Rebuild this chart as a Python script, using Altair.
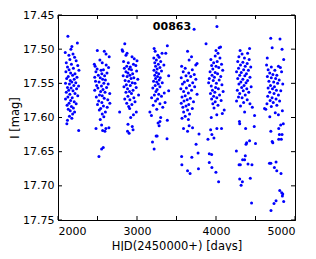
import altair as alt
import pandas as pd

# ---- data (HJD-2450000, I mag) ----
s1_day = [2125, 2245, 2176, 2163, 2092, 2138, 2190, 2210, 2150, 2230, 2105, 2170, 2250, 2120, 2195,
          2140, 2265, 2100, 2160, 2215, 2185, 2130, 2240, 2110, 2205, 2155, 2175, 2225, 2095, 2145,
          2200, 2260, 2120, 2165, 2235, 2135, 2190, 2105, 2215, 2150, 2250, 2125, 2180, 2095, 2160,
          2205, 2140, 2230, 2115, 2170, 2195, 2130, 2155, 2210, 2185, 2145, 2175, 2120, 2112, 2262]
s1_mag = [17.481, 17.491, 17.496, 17.500, 17.505, 17.509, 17.507, 17.512, 17.515, 17.517, 17.520, 17.522,
          17.524, 17.526, 17.528, 17.530, 17.531, 17.533, 17.535, 17.536, 17.538, 17.540, 17.541, 17.543,
          17.544, 17.546, 17.548, 17.549, 17.550, 17.551, 17.553, 17.554, 17.556, 17.557, 17.558, 17.560,
          17.561, 17.563, 17.565, 17.566, 17.568, 17.570, 17.571, 17.573, 17.575, 17.577, 17.579, 17.580,
          17.582, 17.584, 17.586, 17.588, 17.590, 17.592, 17.595, 17.598, 17.601, 17.604, 17.609, 17.619]

s2_day = [2498, 2586, 2648, 2608, 2460, 2470, 2530, 2560, 2610, 2640, 2495, 2545, 2575, 2480, 2620,
          2555, 2510, 2590, 2465, 2535, 2565, 2600, 2475, 2520, 2580, 2635, 2490, 2550, 2615, 2505,
          2570, 2465, 2540, 2595, 2655, 2525, 2560, 2485, 2585, 2630, 2515, 2555, 2656, 2500, 2575,
          2623, 2540, 2523, 2600, 2560, 2580, 2535, 2481, 2552, 2565, 2606, 2644, 2594, 2552, 2573, 2518]
s2_mag = [17.502, 17.503, 17.511, 17.507, 17.522, 17.525, 17.516, 17.520, 17.523, 17.527, 17.529, 17.531,
          17.530, 17.533, 17.535, 17.536, 17.538, 17.539, 17.541, 17.542, 17.544, 17.545, 17.547, 17.548,
          17.550, 17.551, 17.553, 17.554, 17.556, 17.557, 17.559, 17.560, 17.562, 17.563, 17.565, 17.567,
          17.568, 17.570, 17.572, 17.574, 17.576, 17.578, 17.579, 17.581, 17.583, 17.585, 17.587, 17.589,
          17.592, 17.595, 17.599, 17.603, 17.616, 17.611, 17.619, 17.616, 17.615, 17.620, 17.646, 17.644, 17.657]

s3_day = [2845, 2812, 2820, 2874, 2860, 2937, 2965, 3000, 2830, 2890, 2955, 2985, 2870, 2915, 2840,
          2900, 2930, 2995, 2860, 2885, 2945, 2910, 2825, 2875, 2960, 2925, 3010, 2850, 2895, 2940,
          2975, 2865, 2915, 2835, 2990, 2880, 2950, 2905, 2860, 2930, 3020, 2885, 2960, 2845, 2910,
          2975, 2870, 2935, 2895, 2907, 2991, 2780, 2955, 2920, 2886, 2940, 2880, 2950, 2900]
s3_mag = [17.492, 17.501, 17.503, 17.506, 17.509, 17.511, 17.514, 17.517, 17.518, 17.520, 17.522, 17.524,
          17.525, 17.526, 17.528, 17.529, 17.530, 17.532, 17.533, 17.535, 17.536, 17.538, 17.539, 17.540,
          17.542, 17.543, 17.544, 17.546, 17.547, 17.549, 17.550, 17.552, 17.553, 17.555, 17.556, 17.558,
          17.560, 17.562, 17.563, 17.565, 17.567, 17.569, 17.571, 17.573, 17.574, 17.577, 17.579, 17.581,
          17.584, 17.587, 17.592, 17.592, 17.596, 17.600, 17.610, 17.613, 17.620, 17.618, 17.623]

s4_day = [3384, 3217, 3230, 3317, 3364, 3263, 3213, 3280, 3245, 3300, 3225, 3270, 3340, 3235, 3290,
          3255, 3215, 3310, 3245, 3275, 3225, 3401, 3260, 3295, 3235, 3280, 3210, 3250, 3320, 3270,
          3230, 3290, 3200, 3255, 3401, 3240, 3345, 3275, 3220, 3310, 3185, 3260, 3355, 3235, 3290,
          3205, 3326, 3250, 3163, 3183, 3300, 3267, 3280, 3290, 3384, 3242, 3255, 3380, 3196, 3217]
s4_mag = [17.495, 17.499, 17.503, 17.506, 17.506, 17.509, 17.513, 17.512, 17.516, 17.518, 17.520, 17.522,
          17.523, 17.525, 17.527, 17.529, 17.531, 17.532, 17.534, 17.536, 17.538, 17.539, 17.540, 17.542,
          17.543, 17.545, 17.547, 17.548, 17.549, 17.551, 17.553, 17.555, 17.557, 17.559, 17.561, 17.562,
          17.564, 17.566, 17.567, 17.569, 17.571, 17.573, 17.578, 17.576, 17.580, 17.582, 17.585, 17.588,
          17.592, 17.597, 17.600, 17.608, 17.612, 17.606, 17.604, 17.627, 17.627, 17.631, 17.636, 17.646]

s5_day = [3723, 3640, 3690, 3660, 3565, 3744, 3760, 3610, 3700, 3585, 3655, 3725, 3620, 3680, 3560,
          3745, 3640, 3600, 3705, 3575, 3665, 3730, 3625, 3555, 3690, 3590, 3650, 3760, 3610, 3570,
          3675, 3635, 3595, 3715, 3560, 3655, 3620, 3580, 3700, 3640, 3590, 3665, 3610, 3570, 3650,
          3589, 3640, 3703, 3785, 3660, 3748, 3773, 3565, 3694, 3568, 3640, 3672, 3778]
s5_mag = [17.471, 17.503, 17.511, 17.516, 17.525, 17.523, 17.521, 17.528, 17.530, 17.533, 17.535, 17.537,
          17.539, 17.540, 17.542, 17.544, 17.546, 17.548, 17.549, 17.551, 17.553, 17.555, 17.557, 17.558,
          17.560, 17.562, 17.564, 17.566, 17.568, 17.570, 17.572, 17.574, 17.576, 17.577, 17.579, 17.581,
          17.583, 17.585, 17.587, 17.589, 17.592, 17.595, 17.598, 17.601, 17.603, 17.616, 17.620, 17.615,
          17.624, 17.612, 17.639, 17.652, 17.657, 17.658, 17.669, 17.678, 17.682, 17.675]

s6_day = [4012, 3874, 4058, 4040, 4000, 4025, 3990, 4050, 3935, 4015, 3970, 4070, 3945, 4000, 4035,
          3960, 4085, 3925, 3990, 4020, 3950, 4060, 3980, 3915, 4040, 3965, 3907, 4005, 4075, 3940,
          3995, 4030, 3955, 4090, 3985, 3930, 4045, 3970, 4010, 3945, 4065, 3990, 3960, 4025, 4104,
          4080, 3975, 4010, 3940, 3898, 3948, 4011, 3932, 3974, 4070, 3915, 3945, 3915, 3948, 3999, 4033]
s6_mag = [17.467, 17.492, 17.497, 17.498, 17.502, 17.506, 17.510, 17.513, 17.515, 17.518, 17.520, 17.522,
          17.524, 17.525, 17.527, 17.529, 17.531, 17.533, 17.534, 17.536, 17.538, 17.540, 17.541, 17.543,
          17.545, 17.546, 17.549, 17.550, 17.552, 17.554, 17.556, 17.558, 17.560, 17.562, 17.563, 17.565,
          17.567, 17.569, 17.571, 17.573, 17.575, 17.577, 17.580, 17.582, 17.589, 17.594, 17.586, 17.596,
          17.600, 17.632, 17.625, 17.616, 17.618, 17.630, 17.616, 17.653, 17.654, 17.666, 17.673, 17.680, 17.694]

s7_day = [4305, 4425, 4330, 4400, 4290, 4360, 4420, 4275, 4340, 4395, 4310, 4370, 4440, 4285, 4350,
          4410, 4260, 4320, 4385, 4300, 4365, 4430, 4275, 4340, 4400, 4315, 4380, 4290, 4355, 4445,
          4325, 4390, 4270, 4345, 4415, 4300, 4370, 4285, 4330, 4395, 4260, 4350, 4430, 4310, 4460,
          4362, 4488, 4300, 4375, 4484, 4297, 4380, 4425, 4388, 4500, 4258, 4371, 4337, 4362, 4405,
          4292, 4308, 4455, 4300, 4334, 4318, 4434, 4450]
s7_mag = [17.502, 17.499, 17.507, 17.506, 17.511, 17.513, 17.515, 17.518, 17.519, 17.521, 17.523, 17.525,
          17.526, 17.528, 17.530, 17.531, 17.533, 17.534, 17.536, 17.538, 17.539, 17.541, 17.543, 17.544,
          17.546, 17.548, 17.549, 17.551, 17.553, 17.555, 17.556, 17.558, 17.560, 17.561, 17.563, 17.565,
          17.567, 17.570, 17.571, 17.574, 17.576, 17.578, 17.580, 17.583, 17.585, 17.592, 17.597, 17.609,
          17.616, 17.613, 17.606, 17.639, 17.634, 17.637, 17.638, 17.649, 17.656, 17.662, 17.662, 17.668,
          17.669, 17.669, 17.669, 17.690, 17.694, 17.699, 17.689, 17.725]

s8_day = [4693, 4810, 4711, 4836, 4649, 4857, 4640, 4700, 4790, 4815, 4660, 4745, 4830, 4680, 4720,
          4770, 4650, 4700, 4755, 4800, 4670, 4730, 4780, 4845, 4690, 4740, 4660, 4715, 4765, 4820,
          4680, 4735, 4790, 4655, 4710, 4760, 4685, 4805, 4725, 4645, 4770, 4700, 4614, 4630, 4840,
          4750, 4681, 4790, 4852, 4819, 4794, 4694, 4802, 4836, 4827, 4794, 4711, 4719, 4760, 4677,
          4694, 4739, 4769, 4823, 4807, 4832, 4845, 4840, 4857, 4760, 4734, 4696]
s8_mag = [17.484, 17.485, 17.498, 17.500, 17.513, 17.515, 17.523, 17.526, 17.525, 17.527, 17.530, 17.531,
          17.533, 17.535, 17.537, 17.538, 17.540, 17.542, 17.543, 17.545, 17.547, 17.548, 17.550, 17.551,
          17.553, 17.555, 17.557, 17.558, 17.560, 17.561, 17.563, 17.565, 17.567, 17.569, 17.571, 17.573,
          17.575, 17.576, 17.578, 17.580, 17.582, 17.584, 17.587, 17.588, 17.590, 17.593, 17.599, 17.596,
          17.609, 17.611, 17.616, 17.620, 17.625, 17.625, 17.632, 17.632, 17.635, 17.637, 17.665, 17.667,
          17.667, 17.673, 17.678, 17.682, 17.707, 17.710, 17.712, 17.715, 17.723, 17.722, 17.726, 17.736]

x_ticks = [2000, 2500, 3000, 3500, 4000, 4500, 5000]
y_ticks = [17.45, 17.50, 17.55, 17.60, 17.65, 17.70, 17.75]
star_id = "00863"

days = s1_day + s2_day + s3_day + s4_day + s5_day + s6_day + s7_day + s8_day
mags = s1_mag + s2_mag + s3_mag + s4_mag + s5_mag + s6_mag + s7_mag + s8_mag
df = pd.DataFrame({"day": days, "mag": mags})
xt = pd.DataFrame({"day": x_ticks})
yt = pd.DataFrame({"mag": y_ticks})

W, H = 237, 205
FONT = "DejaVu Sans"
xs = alt.Scale(domain=[2000, 5000], nice=False, zero=False)
ys = alt.Scale(domain=[17.45, 17.75], reverse=True, nice=False, zero=False)
x_axis = alt.Axis(values=x_ticks, format="d", title="HJD(2450000+) [days]",
                  labelPadding=5, titlePadding=4)
y_axis = alt.Axis(values=y_ticks, format=".2f", title="I [mag]",
                  labelPadding=4, titlePadding=2)
X = alt.X("day:Q", scale=xs, axis=x_axis)
Y = alt.Y("mag:Q", scale=ys, axis=y_axis)

points = alt.Chart(df).mark_circle(size=9, color="#0000ff", opacity=1).encode(x=X, y=Y)

tick_len = 4
bottom_ticks = alt.Chart(xt).mark_rule(color="black", strokeWidth=1).encode(
    x=X, y=alt.value(H - tick_len), y2=alt.value(H))
top_ticks = alt.Chart(xt).mark_rule(color="black", strokeWidth=1).encode(
    x=X, y=alt.value(0), y2=alt.value(tick_len))
left_ticks = alt.Chart(yt).mark_rule(color="black", strokeWidth=1).encode(
    y=Y, x=alt.value(0), x2=alt.value(tick_len))
right_ticks = alt.Chart(yt).mark_rule(color="black", strokeWidth=1).encode(
    y=Y, x=alt.value(W - tick_len), x2=alt.value(W))

label = alt.Chart(pd.DataFrame({"name": [star_id]})).mark_text(
    font=FONT, fontSize=11, fontWeight="bold", color="black", align="center", baseline="middle"
).encode(text="name:N", x=alt.value(114), y=alt.value(12))

chart = alt.layer(points, bottom_ticks, top_ticks, left_ticks, right_ticks, label).properties(
    width=W, height=H,
    autosize=alt.AutoSizeParams(type="none"),
    padding={"left": 50, "top": 7, "right": 13, "bottom": 31},
).configure_view(stroke="black", strokeWidth=1).configure_axis(
    grid=False, domain=True, domainColor="black", tickSize=0,
    labelFont=FONT, labelFontSize=11, labelColor="black",
    titleFont=FONT, titleFontSize=11.5, titleFontWeight="normal", titleColor="black",
)

chart.save("out.html", embed_options={"renderer": "svg", "actions": False})
